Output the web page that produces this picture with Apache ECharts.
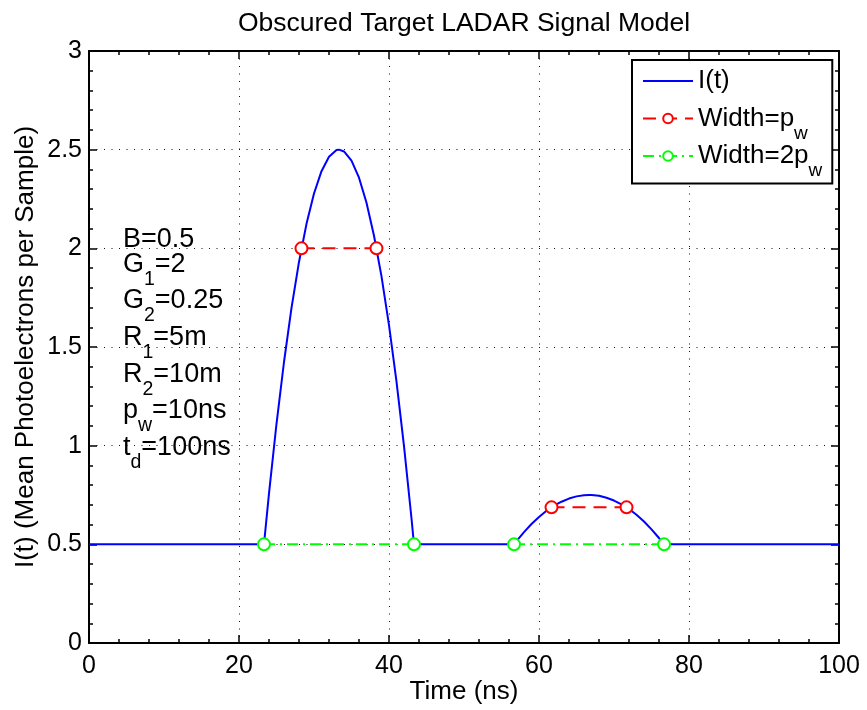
<!DOCTYPE html>
<html>
<head>
<meta charset="utf-8">
<script src="https://cdn.jsdelivr.net/npm/echarts@6/dist/echarts.min.js"></script>
<style>
  html, body { margin: 0; padding: 0; background: #fff; }
  #chart { width: 867px; height: 710px; }
</style>
</head>
<body>
<div id="chart"></div>
<script>
// Signal curve I(t): baseline plus two parabolic returns
const timeNs = [0, 23.33, 24, 25, 26, 27, 28, 29, 30, 31, 32, 33, 33.33, 34, 35, 36, 37, 38, 39, 40, 41, 42, 43, 43.33,
  56.67, 57, 58, 59, 60, 61, 62, 63, 64, 65, 66, 66.67, 67, 68, 69, 70, 71, 72, 73, 74, 75, 76, 76.67, 100];
const intensity = [0.5, 0.5, 0.758, 1.111, 1.424, 1.698, 1.931, 2.124, 2.278, 2.391, 2.464, 2.498, 2.5, 2.491, 2.444, 2.358, 2.231, 2.064, 1.858, 1.611, 1.324, 0.998, 0.631, 0.5,
  0.5, 0.516, 0.562, 0.603, 0.639, 0.670, 0.696, 0.716, 0.732, 0.743, 0.749, 0.75, 0.750, 0.746, 0.736, 0.722, 0.703, 0.679, 0.650, 0.616, 0.576, 0.532, 0.5, 0.5];

// Pulse-width markers (p_w) on each return
const pwFirstX = [28.33, 38.33];
const pwFirstY = [2.0, 2.0];
const pwSecondX = [61.67, 71.67];
const pwSecondY = [0.6875, 0.6875];

// Full-width markers (2 p_w) at the baseline
const twoPwFirstX = [23.33, 43.33];
const twoPwFirstY = [0.5, 0.5];
const twoPwSecondX = [56.67, 76.67];
const twoPwSecondY = [0.5, 0.5];

// Axis ticks
const xTicks = [0, 20, 40, 60, 80, 100];
const yTicks = [0, 0.5, 1, 1.5, 2, 2.5, 3];

// Model parameters listed on the plot: [main, subscript, rest]
const paramLines = [
  ['B=0.5', '', ''],
  ['G', '1', '=2'],
  ['G', '2', '=0.25'],
  ['R', '1', '=5m'],
  ['R', '2', '=10m'],
  ['p', 'w', '=10ns'],
  ['t', 'd', '=100ns']
];

const FONT = "'Liberation Sans', Arial, Helvetica, sans-serif";
const zip = (xs, ys) => xs.map((x, i) => [x, ys[i]]);

// Main text sits centred in a 31px line; the subscript token is a 1px box
// pinned to the line bottom, so its glyphs drop ~15px below the main centre
// without making the line any taller.
function makeRich(mainSize, subSize) {
  const sub = { fontSize: subSize, fontFamily: FONT, height: 1, lineHeight: 1, verticalAlign: 'bottom', color: '#000', fill: '#000' };
  return {
    m: { fontSize: mainSize, fontFamily: FONT, lineHeight: 31, color: '#000', fill: '#000' },
    s: sub,
    // invisible subscript slot so every legend row has the same height
    h: Object.assign({}, sub, { color: 'rgba(0,0,0,0)', fill: 'rgba(0,0,0,0)' })
  };
}
const legendRich = makeRich(26, 19);
const paramRich = makeRich(27, 19.5);

const legendLabels = {
  'I(t)': '{m|I(t)}{h|w}',
  'Width=p_w': '{m|Width=p}{s|w}',
  'Width=2p_w': '{m|Width=2p}{s|w}'
};

function markerSeries(name, xs, ys, color, dash) {
  return {
    name: name,
    type: 'line',
    data: zip(xs, ys),
    symbol: 'emptyCircle',
    symbolSize: 12,
    showSymbol: true,
    lineStyle: { color: color, width: 2, type: dash },
    itemStyle: { color: color, borderColor: color, borderWidth: 2 },
    z: 3
  };
}

const paramBaselines = [248, 273, 309, 346, 383, 419, 456];
const paramGraphics = paramLines.map((p, i) => ({
  type: 'text',
  x: 123,
  y: paramBaselines[i] - 8,
  z: 10,
  style: {
    text: p[1] ? '{m|' + p[0] + '}{s|' + p[1] + '}{m|' + p[2] + '}' : '{m|' + p[0] + '}',
    rich: paramRich,
    align: 'left',
    verticalAlign: 'middle',
    fill: '#000'
  }
}));

const axisCommon = {
  type: 'value',
  axisLine: { show: true, onZero: false, lineStyle: { color: '#000', width: 2 } },
  axisTick: { show: true, inside: true, length: 8, lineStyle: { color: '#000', width: 1.5 } },
  minorTick: { show: true, splitNumber: 5, length: 4, lineStyle: { color: '#000', width: 1.5 } },
  axisLabel: { color: '#000', fontSize: 25, fontFamily: FONT },
  splitLine: { show: false }
};

const gridDots = { color: '#111', width: 1, type: [1, 6.5] };

const option = {
  animation: false,
  backgroundColor: '#fff',
  title: {
    text: 'Obscured Target LADAR Signal Model',
    left: 464,
    top: 10,
    padding: 0,
    textAlign: 'center',
    textStyle: { fontSize: 26.5, fontWeight: 'normal', fontFamily: FONT, color: '#000' }
  },
  grid: { left: 89, right: 28, top: 51, bottom: 67, containLabel: false, outerBoundsMode: 'none' },
  legend: {
    orient: 'vertical',
    left: 632,
    top: 60,
    padding: [8, 10, 3, 10],
    itemGap: 0,
    itemWidth: 50,
    itemHeight: 12,
    borderColor: '#000',
    borderWidth: 2,
    backgroundColor: '#fff',
    data: [
      { name: 'I(t)', itemStyle: { opacity: 0 } },
      'Width=p_w',
      'Width=2p_w'
    ],
    formatter: name => legendLabels[name],
    textStyle: { fontSize: 26, fontFamily: FONT, color: '#000', rich: legendRich },
    selectedMode: false
  },
  xAxis: [
    Object.assign({}, axisCommon, {
      position: 'bottom', min: xTicks[0], max: xTicks[xTicks.length - 1], interval: xTicks[1] - xTicks[0],
      axisLabel: Object.assign({}, axisCommon.axisLabel, { margin: 11 }),
      splitLine: { show: true, lineStyle: gridDots },
      name: 'Time (ns)', nameLocation: 'middle', nameGap: 36, nameMoveOverlap: false,
      nameTextStyle: { fontSize: 26, fontFamily: FONT, color: '#000' }
    }),
    Object.assign({}, axisCommon, {
      position: 'top', min: xTicks[0], max: xTicks[xTicks.length - 1], interval: xTicks[1] - xTicks[0],
      axisLabel: { show: false }
    })
  ],
  yAxis: [
    Object.assign({}, axisCommon, {
      position: 'left', min: yTicks[0], max: yTicks[yTicks.length - 1], interval: yTicks[1] - yTicks[0],
      axisLabel: Object.assign({}, axisCommon.axisLabel, { margin: 7 }),
      splitLine: { show: true, lineStyle: gridDots },
      name: 'I(t) (Mean Photoelectrons per Sample)', nameLocation: 'middle', nameGap: 50, nameMoveOverlap: false,
      nameTextStyle: { fontSize: 26, fontFamily: FONT, color: '#000' }
    }),
    Object.assign({}, axisCommon, {
      position: 'right', min: yTicks[0], max: yTicks[yTicks.length - 1], interval: yTicks[1] - yTicks[0],
      axisLabel: { show: false }
    })
  ],
  series: [
    {
      name: 'I(t)',
      type: 'line',
      data: zip(timeNs, intensity),
      symbol: 'none',
      lineStyle: { color: '#0000ff', width: 2 },
      itemStyle: { color: '#0000ff' },
      z: 2
    },
    markerSeries('Width=p_w', pwFirstX, pwFirstY, '#ff0000', [13, 8]),
    markerSeries('Width=p_w', pwSecondX, pwSecondY, '#ff0000', [13, 8]),
    markerSeries('Width=2p_w', twoPwFirstX, twoPwFirstY, '#00ff00', [11, 5, 2, 5]),
    markerSeries('Width=2p_w', twoPwSecondX, twoPwSecondY, '#00ff00', [11, 5, 2, 5])
  ],
  graphic: paramGraphics
};

const chart = echarts.init(document.getElementById('chart'), null, { renderer: 'canvas' });
chart.setOption(option);
</script>
</body>
</html>
